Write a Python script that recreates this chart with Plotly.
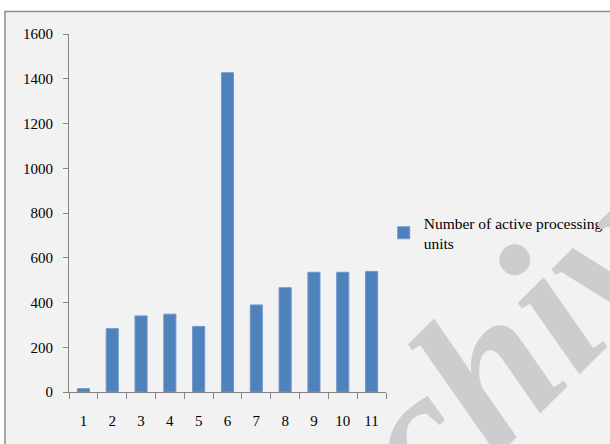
import plotly.graph_objects as go

# Number of active processing units per step
categories = ["1", "2", "3", "4", "5", "6", "7", "8", "9", "10", "11"]
active_units = [15, 283, 340, 348, 293, 1427, 389, 466, 535, 535, 539]
series_name = "Number of active processing<br>units"
y_ticks = [0, 200, 400, 600, 800, 1000, 1200, 1400, 1600]

serif = "Liberation Serif, Times New Roman, serif"
axis_grey = "#868686"

fig = go.Figure()
fig.add_trace(go.Bar(
    x=categories,
    y=active_units,
    name=series_name,
    marker=dict(color="#4f81bd", line=dict(color="#6f97c9", width=1)),
    showlegend=True,
))

# Grey chart frame with a light fill, drawn behind the plot
fig.add_shape(
    type="rect", xref="paper", yref="paper",
    x0=-0.202, x1=1.8, y0=-0.3, y1=1.063,
    fillcolor="#f2f2f2", line=dict(color="#8c8c8c", width=1.5),
    layer="below",
)

# Watermark
fig.add_annotation(
    text="<b><i>Archive</i></b>", xref="paper", yref="paper",
    x=1.227, y=-0.014, xanchor="center", yanchor="middle",
    showarrow=False, textangle=-45,
    font=dict(family=serif, size=205, color="#cdcdcf"),
)

fig.update_layout(
    width=610, height=444,
    margin=dict(l=69, r=224, t=34, b=52, autoexpand=False),
    paper_bgcolor="white",
    plot_bgcolor="rgba(0,0,0,0)",
    bargap=0.58,
    font=dict(family=serif, size=15, color="black"),
    legend=dict(
        xref="container", yref="container",
        x=0.629, y=0.475, xanchor="left", yanchor="middle",
        font=dict(family=serif, size=15.5, color="black"),
        bgcolor="rgba(0,0,0,0)",
        itemwidth=30,
    ),
    xaxis=dict(
        type="category",
        showline=True, linecolor=axis_grey, linewidth=1,
        ticks="outside", ticklen=6, tickcolor=axis_grey,
        tickson="boundaries",
        ticklabelstandoff=15,
        showgrid=False, zeroline=False,
    ),
    yaxis=dict(
        range=[0, 1600],
        tickvals=y_ticks,
        showline=True, linecolor=axis_grey, linewidth=1,
        ticks="outside", ticklen=5, tickcolor=axis_grey,
        ticklabelstandoff=7,
        showgrid=False, zeroline=False,
    ),
)

fig.write_html("out.html")
